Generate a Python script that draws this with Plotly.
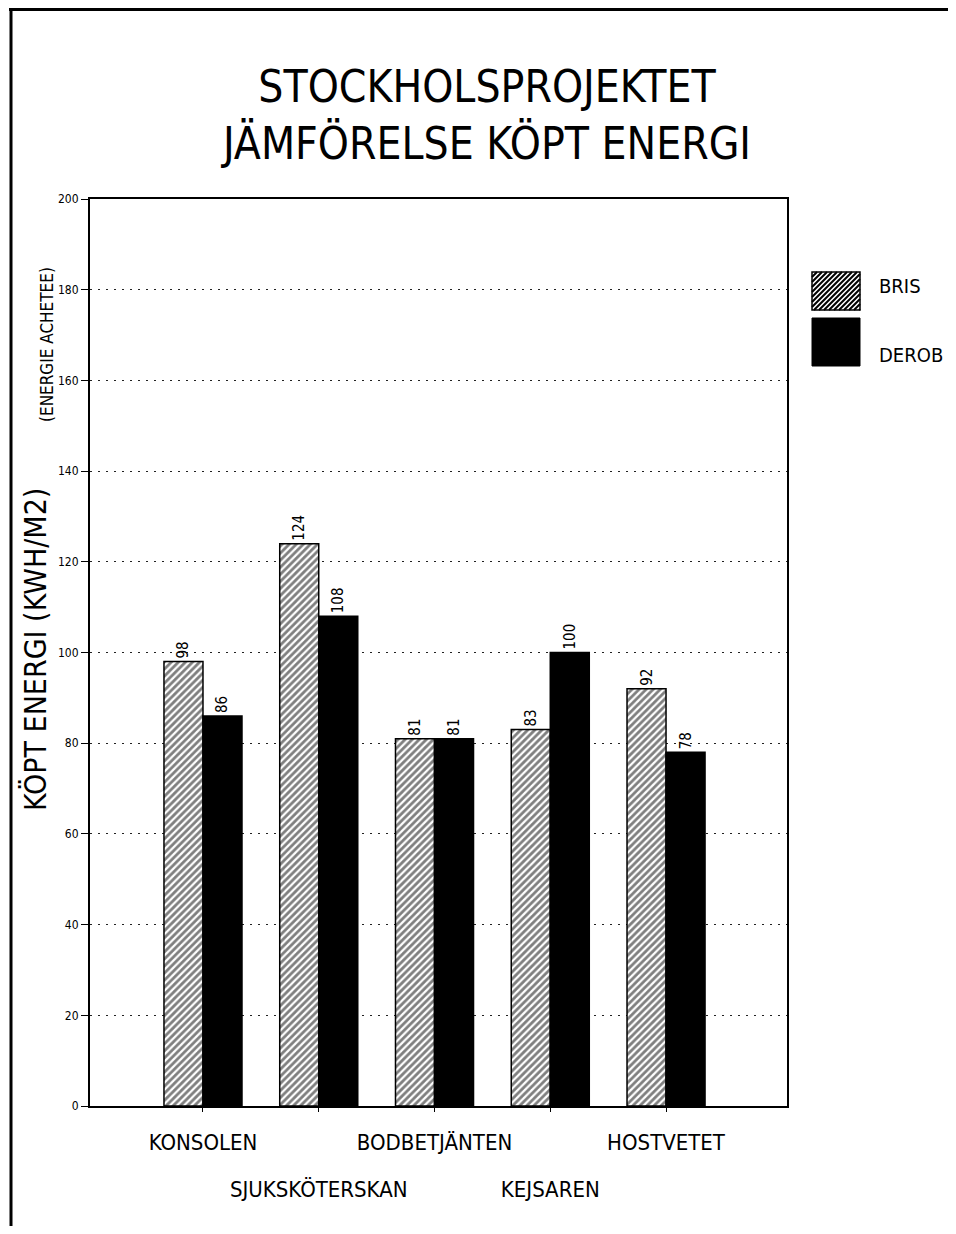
import plotly.graph_objects as go

# data
categories = ["KONSOLEN", "SJUKSKÖTERSKAN", "BODBETJÄNTEN", "KEJSAREN", "HOSTVETET"]
bris = [98, 124, 81, 83, 92]
derob = [86, 108, 81, 100, 78]
y_ticks = [0, 20, 40, 60, 80, 100, 120, 140, 160, 180, 200]

FONT = "DejaVu Sans Condensed, Liberation Sans Narrow, Liberation Sans, sans-serif"

# the page body has an 8px margin, so figure pixels = screen pixels - 8
OFF = 8
W, H = 956 - 2 * OFF, 1234 - 2 * OFF
L, R, T, B = 90 - OFF, 787 - OFF, 199 - OFF, 1106 - OFF


def px(x):
    # screen x -> paper x
    return (x - OFF - L) / (R - L)


def py(y):
    # screen y -> paper y
    return (B - (y - OFF)) / (B - T)


idx = list(range(len(categories)))
# staggered category labels: even ones on the first row, odd ones on a second row
row1_vals = [i for i in idx if i % 2 == 0]
row2_vals = [i for i in idx if i % 2 == 1]

fig = go.Figure()
fig.add_trace(go.Bar(
    x=idx, y=bris, name="BRIS",
    marker=dict(color="white", line=dict(color="black", width=1.5),
                pattern=dict(shape="/", fgcolor="black", bgcolor="white", size=5, solidity=0.55)),
    text=[str(v) for v in bris], textposition="outside", textangle=-90,
    textfont=dict(family=FONT, size=15, color="black"), cliponaxis=False,
))
fig.add_trace(go.Bar(
    x=idx, y=derob, name="DEROB",
    marker=dict(color="black", line=dict(color="black", width=1.5)),
    text=[str(v) for v in derob], textposition="outside", textangle=-90,
    textfont=dict(family=FONT, size=15, color="black"), cliponaxis=False,
))
# invisible helper trace so the second-row label axis is drawn
fig.add_trace(go.Scatter(x=[idx[0]], y=[0], xaxis="x2", mode="markers",
                         marker=dict(opacity=0), hoverinfo="skip", showlegend=False))

# page frame lines
shapes = [
    dict(type="line", xref="paper", yref="paper", x0=px(11), x1=px(11), y0=py(9), y1=py(1230),
         line=dict(color="black", width=3)),
    dict(type="line", xref="paper", yref="paper", x0=px(9), x1=px(960), y0=py(9.5), y1=py(9.5),
         line=dict(color="black", width=3)),
]

# hand-drawn legend swatches
sx0, sx1 = 812, 860
by0, by1 = 272, 310
dy0, dy1 = 318, 366
shapes.append(dict(type="rect", xref="paper", yref="paper", x0=px(sx0), x1=px(sx1), y0=py(by0), y1=py(by1),
                   fillcolor="white", line=dict(color="black", width=1.5)))
# diagonal hatching inside the BRIS swatch
path = ""
step = 5
w, h = sx1 - sx0, by1 - by0
for k in range(-h, w, step):
    xa, ya = k, h
    xb, yb = k + h, 0
    if xa < 0:
        ya = h + xa
        xa = 0
    if xb > w:
        yb = xb - w
        xb = w
    path += f"M{px(sx0 + xa)},{py(by0 + ya)} L{px(sx0 + xb)},{py(by0 + yb)} "
shapes.append(dict(type="path", xref="paper", yref="paper", path=path.strip(),
                   line=dict(color="black", width=2)))
shapes.append(dict(type="rect", xref="paper", yref="paper", x0=px(sx0), x1=px(sx1), y0=py(dy0), y1=py(dy1),
                   fillcolor="black", line=dict(color="black", width=1)))

annotations = [
    dict(text="BRIS", xref="paper", yref="paper", x=px(877), y=py(286), xanchor="left", yanchor="middle",
         showarrow=False, font=dict(family=FONT, size=20, color="black")),
    dict(text="DEROB", xref="paper", yref="paper", x=px(877), y=py(355), xanchor="left", yanchor="middle",
         showarrow=False, font=dict(family=FONT, size=20, color="black")),
    dict(text="KÖPT ENERGI (KWH/M2)", xref="paper", yref="paper", x=px(35), y=py(650), textangle=-90,
         xanchor="center", yanchor="middle", showarrow=False, font=dict(family=FONT, size=30, color="black")),
    dict(text="(ENERGIE ACHETEE)", xref="paper", yref="paper", x=px(47), y=py(345), textangle=-90,
         xanchor="center", yanchor="middle", showarrow=False, font=dict(family=FONT, size=17, color="black")),
]

fig.update_layout(
    width=W, height=H,
    margin=dict(l=L, r=W - R, t=T, b=H - B, autoexpand=False),
    paper_bgcolor="white", plot_bgcolor="white",
    barmode="group", bargap=0.326, bargroupgap=0,
    showlegend=False,
    font=dict(family=FONT, color="black"),
    title=dict(text="STOCKHOLSPROJEKTET<br>JÄMFÖRELSE KÖPT ENERGI", x=(487 - OFF) / W, xanchor="center",
               y=1 - (102 - OFF) / H, yanchor="middle", font=dict(family=FONT, size=44, color="black")),
    shapes=shapes,
    annotations=annotations,
    xaxis=dict(
        tickmode="array", tickvals=idx,
        ticktext=[categories[i] if i in row1_vals else "" for i in idx],
        range=[-0.976, 4 + 1.045], showgrid=False, zeroline=False, automargin=False,
        showline=True, linecolor="black", linewidth=2, mirror=True, tickangle=0,
        ticks="outside", ticklen=4, tickcolor="black", ticklabelstandoff=12,
        tickfont=dict(family=FONT, size=22, color="black"),
    ),
    xaxis2=dict(
        overlaying="x", matches="x", side="bottom", showline=False, showgrid=False,
        zeroline=False, automargin=False, tickmode="array", tickvals=row2_vals,
        ticktext=[categories[i] for i in row2_vals], ticks="", tickangle=0,
        ticklabelstandoff=68, tickfont=dict(family=FONT, size=22, color="black"),
    ),
    yaxis=dict(
        range=[0, 200], tickmode="array", tickvals=y_ticks, ticktext=[str(v) for v in y_ticks],
        showgrid=True, gridcolor="#222", gridwidth=1, griddash="2px,6px", zeroline=False, automargin=False,
        showline=True, linecolor="black", linewidth=2, mirror=True,
        ticks="outside", ticklen=7, tickcolor="black",
        tickfont=dict(family=FONT, size=12, color="black"),
    ),
)

fig.write_html("out.html")
